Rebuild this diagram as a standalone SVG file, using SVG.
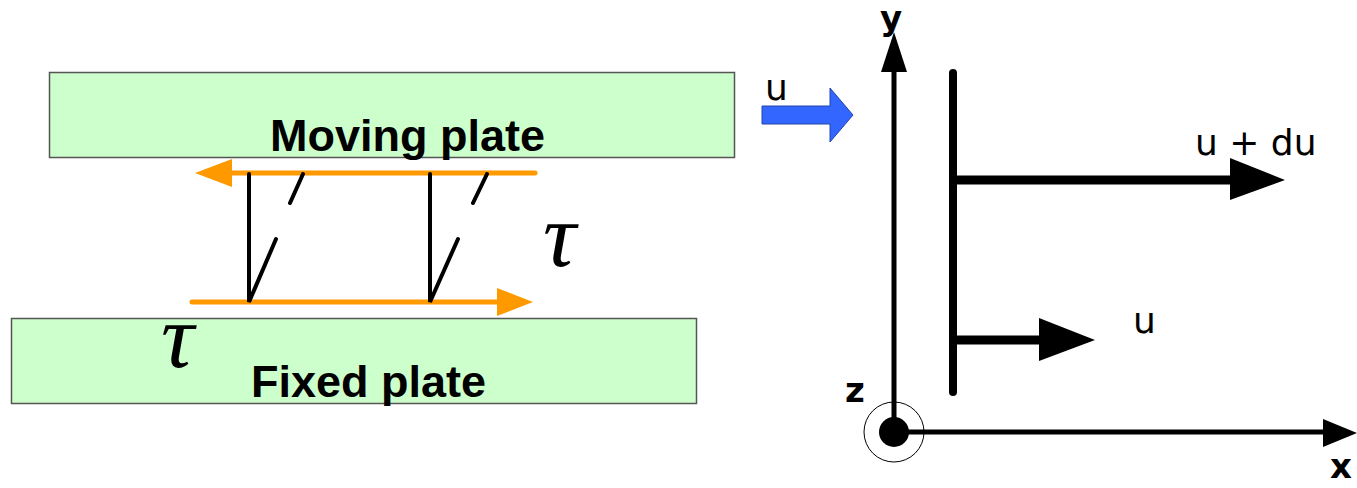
<svg xmlns="http://www.w3.org/2000/svg" width="1357" height="488" viewBox="0 0 1357 488">
<style>
.plate{fill:#ccffcc;stroke:#555;stroke-width:1.5}
.pl{font-family:"Liberation Sans",Arial,sans-serif;font-weight:bold;font-size:45px;fill:#000}
.tau{font-family:"Liberation Serif","Times New Roman",serif;font-style:italic;font-size:92px;fill:#000}
.lab{font-family:"DejaVu Sans",sans-serif;font-size:36px;fill:#000}
.ax{font-family:"DejaVu Sans",sans-serif;font-weight:bold;font-size:34px;fill:#000}
.or{stroke:#ff9900;stroke-width:5;stroke-linecap:round;fill:none}
.bk{stroke:#000;stroke-width:4;stroke-linecap:round;fill:none}
.thick{stroke:#000;stroke-width:9;fill:none}
</style>
<g id="moving-plate">
<rect class="plate" x="49.5" y="72.5" width="685" height="85"/>
<text class="pl" x="270" y="151">Moving plate</text>
</g>
<g id="fixed-plate">
<rect class="plate" x="11.5" y="318.5" width="685" height="85"/>
<text class="pl" x="251" y="397">Fixed plate</text>
</g>
<g id="tau-right"><text class="tau" x="543" y="266">τ</text></g>
<g id="tau-left"><text class="tau" x="161" y="367">τ</text></g>
<g id="connectors">
<line class="or" x1="228" y1="173" x2="535" y2="173"/>
<polygon points="195,173 232,159 232,187" fill="#ff9900"/>
<line class="or" x1="192" y1="302" x2="500" y2="302"/>
<polygon points="533,302 497,288 497,316" fill="#ff9900"/>
<path class="bk" d="M249,174 V302 L276,239 M290,203 L303,174"/>
<path class="bk" d="M430,174 V302 L458,239 M473,203 L487,174"/>
<polygon points="762,106 830,106 830,88 853,115 830,142 830,124 762,124" fill="#3366ff" stroke="#2244aa" stroke-width="1"/>
<line x1="894" y1="432" x2="894" y2="70" stroke="#000" stroke-width="5"/>
<polygon points="894,32 881,72 907,72" fill="#000"/>
<line x1="894" y1="432" x2="1325" y2="432" stroke="#000" stroke-width="5"/>
<polygon points="1357,433 1323,419 1323,447" fill="#000"/>
<circle cx="894" cy="432" r="30" fill="none" stroke="#000" stroke-width="1"/>
<circle cx="894" cy="432" r="15" fill="#000"/>
<line x1="953" y1="73" x2="953" y2="392" stroke="#000" stroke-width="8" stroke-linecap="round"/>
<line class="thick" x1="953" y1="180" x2="1232" y2="180"/>
<polygon points="1285,180 1230,158 1230,200" fill="#000"/>
<line class="thick" x1="953" y1="340" x2="1041" y2="340"/>
<polygon points="1095,340 1039,318 1039,361" fill="#000"/>
</g>
<g id="labels">
<text class="lab" x="765" y="100">u</text>
<text class="lab" x="1195" y="155">u + du</text>
<text class="lab" x="1133" y="333">u</text>
<text class="ax" x="880" y="30">y</text>
<text class="ax" x="845" y="402">z</text>
<text class="ax" x="1330" y="478">x</text>
</g>
</svg>
